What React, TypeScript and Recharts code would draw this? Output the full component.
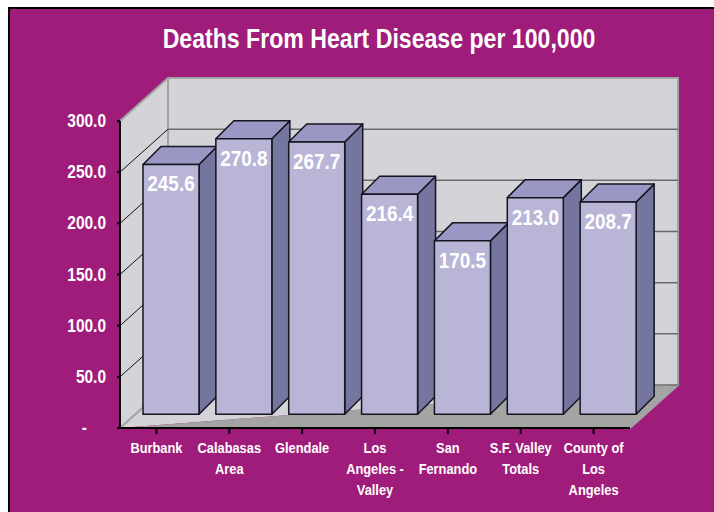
import { BarChart, Bar, XAxis, YAxis, CartesianGrid, LabelList } from 'recharts';

const categories = ['Burbank', 'Calabasas Area', 'Glendale', 'Los Angeles - Valley', 'San Fernando', 'S.F. Valley Totals', 'County of Los Angeles'];
const tickLines = [['Burbank'], ['Calabasas', 'Area'], ['Glendale'], ['Los', 'Angeles -', 'Valley'], ['San', 'Fernando'], ['S.F. Valley', 'Totals'], ['County of', 'Los', 'Angeles']];
const deaths = [245.6, 270.8, 267.7, 216.4, 170.5, 213.0, 208.7];
const yTicks = [0, 50, 100, 150, 200, 250, 300];

const data = categories.map((name, i) => ({ name, deaths: deaths[i] }));

const FONT = '"Liberation Sans", Arial, sans-serif';
const W = 714;
const H = 512;
const LEFT = 120;
const RIGHT = 630;
const TOP = 121;
const BOTTOM = 428;
// 3D depth of the box
const DX = 48;
const DY = 43;
// bars sit part way into the box
const BAR_DX = 15;
const BAR_DY = 13.7;
const BAR_DEPTH = 18;
const SQUASH = 0.006;

const WALL = '#d4d3d8';
const EDGE = '#a3a3a3';
const FLOOR_DARK = '#a4a4a4';

function Walls() {
  return (
    <g>
      <polygon points={`${LEFT + DX},${TOP - DY} ${RIGHT + DX},${TOP - DY} ${RIGHT + DX},${BOTTOM - DY} ${LEFT + DX},${BOTTOM - DY}`} fill={WALL} />
      <polygon points={`${LEFT},${TOP} ${LEFT + DX},${TOP - DY} ${LEFT + DX},${BOTTOM - DY} ${LEFT},${BOTTOM}`} fill={WALL} />
      <polygon points={`${LEFT},${BOTTOM} ${LEFT + DX},${BOTTOM - DY} ${RIGHT + DX},${BOTTOM - DY}`} fill={WALL} />
      <polygon points={`${LEFT},${BOTTOM} ${RIGHT + DX},${BOTTOM - DY} ${RIGHT},${BOTTOM}`} fill={FLOOR_DARK} />
      <polyline points={`${LEFT},${TOP} ${LEFT + DX},${TOP - DY} ${RIGHT + DX},${TOP - DY} ${RIGHT + DX},${BOTTOM - DY} ${RIGHT},${BOTTOM}`} fill="none" stroke={EDGE} strokeWidth={2} />
      <line x1={LEFT + DX} y1={TOP - DY} x2={LEFT + DX} y2={BOTTOM - DY} stroke={EDGE} strokeWidth={2} />
      <line x1={LEFT} y1={BOTTOM} x2={LEFT + DX} y2={BOTTOM - DY} stroke={EDGE} strokeWidth={2} />
    </g>
  );
}

// grid callback runs once per tick, the box has to go in before the first line
function GridLine(p: any) {
  const inner = p.y1 > TOP + 1;
  return (
    <g key={p.key}>
      {p.index === 0 && <Walls />}
      {inner && <line x1={p.x1 + DX} y1={p.y1 - DY} x2={p.x2 + DX} y2={p.y2 - DY} stroke="#6a6a6a" strokeWidth={1.5} />}
      {inner && p.y1 < BOTTOM - 1 && <line x1={p.x1} y1={p.y1} x2={p.x1 + DX} y2={p.y1 - DY} stroke="#111" strokeWidth={1} />}
    </g>
  );
}

function Bar3D(p: any) {
  const x = p.x + BAR_DX;
  const y = p.y + p.height * SQUASH - BAR_DY;
  const w = p.width;
  const bottom = p.y + p.height - BAR_DY;
  const d = BAR_DEPTH;
  return (
    <g stroke="#15151f" strokeWidth={1.5} strokeLinejoin="round">
      <polygon points={`${x + w},${y} ${x + w + d},${y - d} ${x + w + d},${bottom - d} ${x + w},${bottom}`} fill="#75769f" />
      <polygon points={`${x},${y} ${x + d},${y - d} ${x + w + d},${y - d} ${x + w},${y}`} fill="#9b97c5" />
      <rect x={x} y={y} width={w} height={bottom - y} fill="#b9b5d7" />
    </g>
  );
}

function ValueLabel(p: any) {
  const cx = p.x + p.width / 2 + BAR_DX;
  const top = p.y + p.height * SQUASH - BAR_DY;
  return (
    <text transform={`translate(${cx},${top + 27}) scale(0.84,1)`} textAnchor="middle" fontFamily={FONT} fontWeight="bold" fontSize={22.5} fill="#fff">
      {Number(p.value).toFixed(1)}
    </text>
  );
}

function CategoryTick(p: any) {
  const lines = tickLines[p.index] ?? [];
  return (
    <g>
      {lines.map((line, i) => (
        <text key={line} transform={`translate(${p.x},${453 + i * 21}) scale(0.885,1)`} textAnchor="middle" fontFamily={FONT} fontWeight="bold" fontSize={14.5} fill="#fff">
          {line}
        </text>
      ))}
    </g>
  );
}

function ValueTick(p: any) {
  const v = p.payload.value;
  const label = v === 0 ? '-' : v.toFixed(1);
  const x = v === 0 ? 87 : 106;
  return (
    <text transform={`translate(${x},${p.y + 6}) scale(0.86,1)`} textAnchor="end" fontFamily={FONT} fontWeight="bold" fontSize={18} fill="#fff">
      {label}
    </text>
  );
}

export default function App() {
  return (
    <div style={{ position: 'absolute', left: 0, top: 0, width: W, height: H, overflow: 'hidden', background: '#fff' }}>
      <div style={{ position: 'absolute', left: 8, top: 7, right: 0, bottom: 0, background: '#9f1c7b', borderLeft: '2px solid #000', borderTop: '2px solid #000' }} />
      <div style={{ position: 'absolute', left: 379, top: 22, whiteSpace: 'nowrap', fontFamily: FONT, fontWeight: 'bold', fontSize: 28, lineHeight: '34px', color: '#fff', transform: 'translateX(-50%) scaleX(0.825)' }}>
        Deaths From Heart Disease per 100,000
      </div>
      <div style={{ position: 'absolute', left: 0, top: 0 }}>
        <BarChart width={W} height={H} data={data} margin={{ top: TOP, right: W - RIGHT, bottom: 0, left: 40 }} barSize={56}>
          <CartesianGrid vertical={false} horizontal={GridLine} />
          <XAxis dataKey="name" interval={0} height={H - BOTTOM} tick={CategoryTick} tickSize={6} axisLine={{ stroke: '#000', strokeWidth: 2 }} tickLine={{ stroke: '#000', strokeWidth: 2 }} />
          <YAxis domain={[0, 300]} ticks={yTicks} width={LEFT - 40} tick={ValueTick} tickSize={3} axisLine={{ stroke: '#000', strokeWidth: 2 }} tickLine={{ stroke: '#000', strokeWidth: 2 }} />
          <Bar dataKey="deaths" shape={Bar3D} isAnimationActive={false}>
            <LabelList dataKey="deaths" content={ValueLabel} />
          </Bar>
        </BarChart>
      </div>
    </div>
  );
}
